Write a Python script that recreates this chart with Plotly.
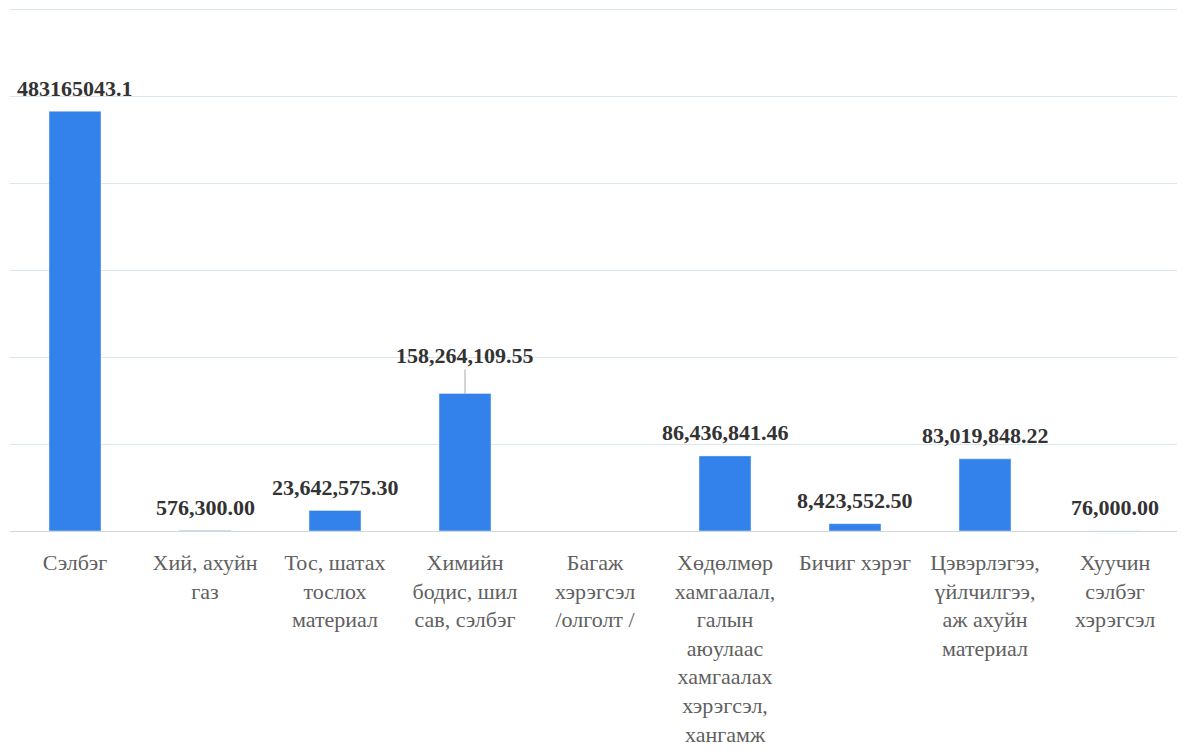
import plotly.graph_objects as go

# Categories (x axis tick labels)
categories = [
    'Сэлбэг',
    'Хий, ахуйн<br>газ',
    'Тос, шатах<br>тослох<br>материал',
    'Химийн<br>бодис, шил<br>сав, сэлбэг',
    'Багаж<br>хэрэгсэл<br>/олголт /',
    'Хөдөлмөр<br>хамгаалал,<br>галын<br>аюулаас<br>хамгаалах<br>хэрэгсэл,<br>хангамж',
    'Бичиг хэрэг',
    'Цэвэрлэгээ,<br>үйлчилгээ,<br>аж ахуйн<br>материал',
    'Хуучин<br>сэлбэг<br>хэрэгсэл',
]

# Series values
values = [483165043.1, 576300.00, 23642575.30, 158264109.55, None,
          86436841.46, 8423552.50, 83019848.22, 76000.00]

# Data labels as printed on the chart
value_labels = ['483165043.1', '576,300.00', '23,642,575.30', '158,264,109.55', '',
                '86,436,841.46', '8,423,552.50', '83,019,848.22', '76,000.00']

# Label that is pulled away from its bar with a leader line
callout_index = 3

bar_color = '#3381eb'
label_font = dict(family='Liberation Serif', size=22, color='#333333')

fig = go.Figure()
fig.add_trace(go.Bar(
    x=categories,
    y=values,
    width=0.4,
    marker=dict(color=bar_color),
    hoverinfo='x+y',
))

# Data labels above the bars
for i, (cat, val, lab) in enumerate(zip(categories, values, value_labels)):
    if val is None or not lab:
        continue
    if i == callout_index:
        fig.add_annotation(
            x=cat, y=val,
            text='<b>' + lab + '</b>',
            showarrow=True,
            arrowhead=0,
            arrowwidth=1,
            arrowcolor='#aaaaaa',
            ax=0, ay=-38,
            font=label_font,
        )
    else:
        fig.add_annotation(
            x=cat, y=val,
            text='<b>' + lab + '</b>',
            showarrow=False,
            yanchor='middle',
            yshift=23,
            font=label_font,
        )

fig.update_xaxes(
    showline=False,
    ticks='',
    automargin=False,
    ticklabelstandoff=16,
    tickfont=dict(family='Liberation Serif', size=22, color='#606060'),
    tickangle=0,
)
fig.update_yaxes(
    range=[0, 602000000],
    dtick=100000000,
    showticklabels=False,
    showgrid=True,
    gridcolor='#dbe7ee',
    gridwidth=1,
    zeroline=True,
    zerolinecolor='#cfd8dc',
    zerolinewidth=1,
)
fig.update_layout(
    width=1177,
    height=744,
    margin=dict(l=2, r=5, t=0, b=221),
    plot_bgcolor='white',
    paper_bgcolor='white',
    showlegend=False,
)

fig.write_html('out.html')
